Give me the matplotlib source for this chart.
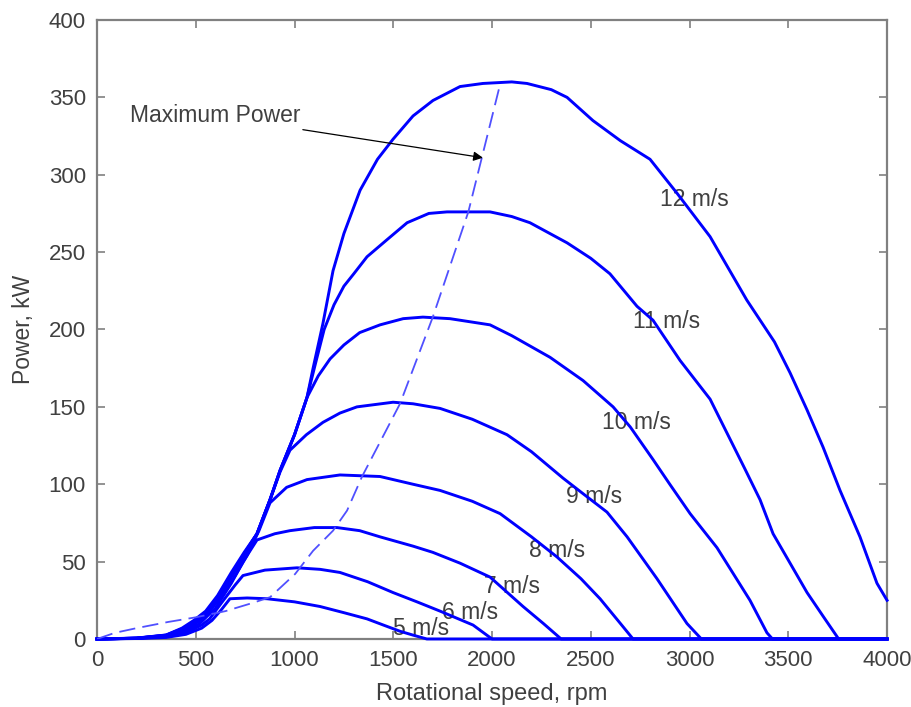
import matplotlib
matplotlib.use("Agg")
import matplotlib.pyplot as plt

# Power curves of the turbine (kW) versus rotor speed (rpm), one per wind speed
rpm_05 = [0, 200, 350, 450, 530, 582, 630, 673, 760, 861, 1000, 1129, 1250, 1367, 1450, 1534, 1600, 1670, 4000]
kw_05 = [0, 0.3, 1, 3, 7, 12, 19, 26, 26.5, 26, 24, 21, 17, 13, 9, 5, 2.5, 0, 0]

rpm_06 = [0, 200, 350, 450, 530, 570, 640, 700, 739, 850, 1013, 1130, 1230, 1370, 1499, 1620, 1737, 1904, 2000, 4000]
kw_06 = [0, 0.4, 1.5, 4, 9, 13, 25, 35, 41, 44.5, 46, 45, 43, 37, 30, 24, 18, 9, 0, 0]

rpm_07 = [0, 200, 350, 450, 520, 600, 680, 740, 810, 900, 977, 1100, 1215, 1330, 1433, 1600, 1700, 1838,
          1990, 2157, 2260, 2350, 4000]
kw_07 = [0, 0.4, 1.8, 5, 10, 20, 36, 50, 64, 68, 70, 72, 72, 70, 66, 60, 56, 49, 40, 21, 10, 0, 0]

rpm_08 = [0, 200, 350, 450, 510, 570, 640, 700, 760, 820, 876, 960, 1063, 1230, 1433, 1600, 1737, 1900,
          2041, 2200, 2329, 2450, 2547, 2650, 2714, 4000]
kw_08 = [0, 0.5, 2, 6, 11, 18, 29, 41, 54, 70, 88, 98, 103, 106, 105, 100, 96, 89, 81, 66, 53, 39, 26,
         10, 0, 0]

rpm_09 = [0, 200, 350, 450, 500, 560, 620, 690, 750, 810, 876, 927, 977, 1060, 1144, 1230, 1316, 1499,
          1600, 1737, 1900, 2076, 2200, 2359, 2470, 2582, 2684, 2835, 2987, 3060, 4000]
kw_09 = [0, 0.5, 2.2, 7, 11, 17, 27, 42, 55, 68, 90, 108, 122, 132, 140, 146, 150, 153, 152, 149, 142,
         132, 121, 104, 93, 82, 66, 39, 10, 0, 0]

rpm_10 = [0, 200, 350, 440, 500, 560, 620, 690, 750, 810, 876, 927, 1000, 1063, 1120, 1180, 1250, 1330,
          1433, 1550, 1650, 1787, 1990, 2100, 2294, 2461, 2613, 2700, 2815, 2900, 3003, 3139, 3306, 3392,
          3420, 4000]
kw_10 = [0, 0.5, 2.4, 7, 12, 18, 28, 43, 56, 68, 90, 109, 132, 156, 170, 181, 190, 198, 203, 207, 208,
         207, 203, 196, 182, 167, 150, 137, 116, 100, 81, 59, 25, 4, 0, 0]

rpm_11 = [0, 200, 350, 440, 495, 555, 615, 685, 750, 810, 876, 927, 1000, 1063, 1110, 1150, 1200, 1250,
          1300, 1367, 1468, 1570, 1680, 1772, 1990, 2100, 2192, 2380, 2500, 2597, 2734, 2815, 2952, 3104,
          3190, 3280, 3357, 3423, 3595, 3680, 3755, 4000]
kw_11 = [0, 0.5, 2.5, 7, 12, 18, 28, 43, 56, 68, 90, 109, 132, 156, 180, 200, 216, 228, 236, 247, 258,
         269, 275, 276, 276, 273, 269, 256, 246, 236, 215, 206, 180, 155, 133, 110, 90, 68, 30, 14, 0, 0]

rpm_12 = [0, 200, 350, 430, 490, 550, 610, 680, 745, 810, 876, 927, 1000, 1063, 1094, 1144, 1195, 1250,
          1332, 1420, 1499, 1600, 1701, 1838, 1954, 2100, 2177, 2300, 2380, 2511, 2650, 2800, 2937, 3104,
          3290, 3430, 3509, 3595, 3676, 3762, 3863, 3949, 4000]
kw_12 = [0, 0.6, 2.6, 7, 12, 18, 28, 43, 56, 68, 90, 109, 132, 156, 175, 204, 238, 262, 290, 310, 323,
         338, 348, 357, 359, 360, 359, 355, 350, 335, 322, 310, 288, 260, 219, 192, 172, 148, 124, 96,
         66, 36, 25]

# Locus of the maximum-power points
rpm_max = [0, 91, 200, 360, 500, 650, 780, 876, 1003, 1094, 1195, 1266, 1342, 1534, 1700, 1880, 2040]
kw_max = [0, 4, 7, 11, 14, 18, 23, 27, 42, 57, 70, 83, 105, 152, 208, 276, 358]

# Curve labels and where they sit (rpm, kW)
curve_labels = ["5 m/s", "6 m/s", "7 m/s", "8 m/s", "9 m/s", "10 m/s", "11 m/s", "12 m/s"]
label_rpm = [1641, 1889, 2101, 2329, 2516, 2729, 2886, 3023]
label_kw = [7, 17, 34, 57, 92, 140, 205, 284]

x_ticks = [0, 500, 1000, 1500, 2000, 2500, 3000, 3500, 4000]
y_ticks = [0, 50, 100, 150, 200, 250, 300, 350, 400]

plt.rcParams['font.family'] = ['Liberation Sans', 'DejaVu Sans']

fig = plt.figure(figsize=(9.11, 7.07), dpi=100)
ax = fig.add_axes([0.1065, 0.0962, 0.8672, 0.8755])

curves = [(rpm_05, kw_05), (rpm_06, kw_06), (rpm_07, kw_07), (rpm_08, kw_08),
          (rpm_09, kw_09), (rpm_10, kw_10), (rpm_11, kw_11), (rpm_12, kw_12)]
for r, p in curves:
    ax.plot(r, p, color='#0000ff', lw=2.1, solid_joinstyle='round', clip_on=False, zorder=3)

ax.plot(rpm_max, kw_max, color='#5050ff', lw=1.3, dashes=(9, 4), zorder=3)

text_color = '#404040'
for lab, x, y in zip(curve_labels, label_rpm, label_kw):
    ax.text(x, y, lab, ha='center', va='center', fontsize=16.5, color=text_color, zorder=2)

ax.annotate("Maximum Power", xy=(1954, 311), xytext=(1028, 338),
            ha='right', va='center', fontsize=16.5, color=text_color,
            arrowprops=dict(arrowstyle='-|>', color='black', lw=0.9,
                            mutation_scale=14, shrinkA=0, shrinkB=0))

ax.set_xlim(0, 4000)
ax.set_ylim(0, 400)
ax.set_xticks(x_ticks)
ax.set_yticks(y_ticks)
ax.set_xticklabels([str(t) for t in x_ticks])
ax.set_yticklabels([str(t) for t in y_ticks])

spine_color = '#808080'
for s in ax.spines.values():
    s.set_color(spine_color)
    s.set_linewidth(1.6)
ax.tick_params(direction='in', length=6, width=1.2, color=spine_color,
               top=True, right=True, labelsize=16, labelcolor=text_color, pad=8)

ax.set_xlabel("Rotational speed, rpm", fontsize=17, color=text_color)
ax.set_ylabel("Power, kW", fontsize=16.5, color=text_color)
ax.xaxis.set_label_coords(0.5, -0.071)
ax.yaxis.set_label_coords(-0.078, 0.5)

fig.savefig("out.png", dpi=100)
